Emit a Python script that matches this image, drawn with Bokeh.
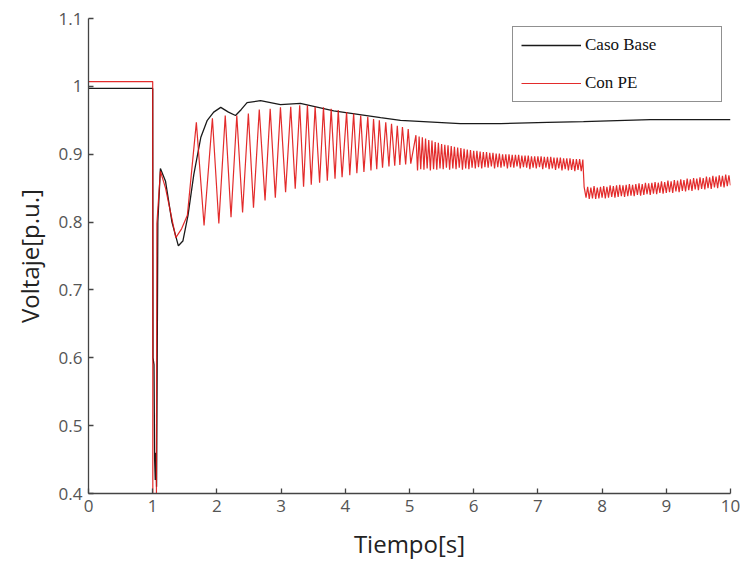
import numpy as np
from bokeh.plotting import figure
from bokeh.models import FixedTicker, Range1d, Legend, LegendItem
from bokeh.embed import file_html
from bokeh.resources import INLINE

# ---------------- data ----------------
# Caso Base
base_t = [0, 1.0, 1.005, 1.02, 1.03, 1.04, 1.05, 1.06, 1.07, 1.08, 1.12, 1.2, 1.3, 1.4, 1.47,
          1.55, 1.64, 1.75, 1.85, 1.95, 2.06, 2.18, 2.29, 2.38, 2.47, 2.68, 2.99, 3.3, 3.82,
          4.55, 4.86, 5.79, 6.42, 7.15, 7.71, 8.75, 10.0]
base_v = [0.997, 0.997, 0.60, 0.59, 0.45, 0.42, 0.46, 0.41, 0.59, 0.80, 0.879, 0.86, 0.80, 0.765, 0.772,
          0.81, 0.87, 0.925, 0.95, 0.962, 0.969, 0.962, 0.957, 0.966, 0.976, 0.979, 0.973, 0.975, 0.964,
          0.954, 0.950, 0.945, 0.945, 0.947, 0.948, 0.951, 0.951]

# Con PE - start
pe_start_t = [0, 1.0, 1.002, 1.058, 1.065, 1.12, 1.2, 1.36, 1.45, 1.54]
pe_start_v = [1.007, 1.007, 0.38, 0.38, 0.798, 0.875, 0.85, 0.777, 0.79, 0.81]

# Con PE - oscillation peaks and troughs
pe_peak_t = [1.68, 1.93, 2.13, 2.31, 2.49, 2.66, 2.83, 2.99, 3.15, 3.29, 3.41, 3.53, 3.66,
             3.78, 3.89, 4.02, 4.13, 4.24, 4.35, 4.44, 4.53, 4.63, 4.72, 4.81, 4.89, 4.98]
pe_peak_v = [0.947, 0.953, 0.957, 0.957, 0.960, 0.966, 0.967, 0.969, 0.970, 0.972, 0.972, 0.970, 0.969,
             0.967, 0.965, 0.962, 0.960, 0.957, 0.955, 0.952, 0.950, 0.947, 0.945, 0.942, 0.940, 0.937]
pe_trough_t = [1.80, 2.03, 2.22, 2.40, 2.57, 2.75, 2.91, 3.07, 3.22, 3.35, 3.47, 3.60, 3.72,
               3.84, 3.95, 4.07, 4.18, 4.29, 4.40, 4.49, 4.58, 4.68, 4.77, 4.85, 4.94, 5.02]
pe_trough_v = [0.795, 0.798, 0.807, 0.814, 0.821, 0.832, 0.836, 0.844, 0.849, 0.852, 0.855, 0.858, 0.861,
               0.864, 0.866, 0.869, 0.872, 0.874, 0.876, 0.878, 0.880, 0.882, 0.883, 0.884, 0.885, 0.886]

# Con PE - noisy band before the step (samples every 0.025 s from 5.10 to 7.70)
pe_band1_t0, pe_band1_dt = 5.10, 0.025
pe_band1_v = [0.928, 0.876, 0.926, 0.878, 0.925, 0.877, 0.923, 0.879, 0.921, 0.876,
              0.920, 0.878, 0.918, 0.877, 0.917, 0.879, 0.915, 0.878, 0.914, 0.880,
              0.913, 0.877, 0.912, 0.879, 0.911, 0.878, 0.910, 0.880, 0.909, 0.877,
              0.908, 0.879, 0.907, 0.878, 0.906, 0.880, 0.905, 0.879, 0.905, 0.881,
              0.904, 0.879, 0.903, 0.881, 0.903, 0.880, 0.902, 0.882, 0.902, 0.879,
              0.901, 0.881, 0.901, 0.880, 0.900, 0.882, 0.900, 0.879, 0.900, 0.881,
              0.899, 0.880, 0.899, 0.882, 0.899, 0.879, 0.898, 0.881, 0.898, 0.880,
              0.898, 0.878, 0.897, 0.880, 0.897, 0.879, 0.897, 0.881, 0.897, 0.878,
              0.896, 0.880, 0.896, 0.878, 0.896, 0.879, 0.895, 0.877, 0.895, 0.879,
              0.895, 0.876, 0.894, 0.878, 0.894, 0.876, 0.894, 0.877, 0.893, 0.875,
              0.893, 0.877, 0.893, 0.875, 0.892]
# step
pe_step_t = [7.72]
pe_step_v = [0.852]
# Con PE - noisy band after the step (samples every 0.025 s from 7.75 to 10.00)
pe_band2_t0, pe_band2_dt = 7.75, 0.025
pe_band2_v = [0.836, 0.852, 0.834, 0.851, 0.835, 0.853, 0.834, 0.851, 0.835, 0.852,
              0.836, 0.853, 0.835, 0.852, 0.836, 0.854, 0.837, 0.853, 0.836, 0.854,
              0.837, 0.855, 0.838, 0.854, 0.837, 0.855, 0.838, 0.856, 0.839, 0.855,
              0.838, 0.856, 0.840, 0.857, 0.839, 0.856, 0.840, 0.858, 0.841, 0.857,
              0.840, 0.858, 0.842, 0.859, 0.841, 0.858, 0.843, 0.860, 0.842, 0.859,
              0.843, 0.861, 0.844, 0.860, 0.843, 0.862, 0.845, 0.861, 0.844, 0.863,
              0.846, 0.862, 0.845, 0.864, 0.847, 0.863, 0.846, 0.865, 0.848, 0.864,
              0.847, 0.866, 0.849, 0.865, 0.848, 0.867, 0.850, 0.866, 0.849, 0.868,
              0.851, 0.867, 0.850, 0.869, 0.852, 0.868, 0.851, 0.870, 0.853, 0.869,
              0.854]

x_ticks = [0, 1, 2, 3, 4, 5, 6, 7, 8, 9, 10]
y_ticks = [0.4, 0.5, 0.6, 0.7, 0.8, 0.9, 1.0, 1.1]
y_tick_labels = ["0.4", "0.5", "0.6", "0.7", "0.8", "0.9", "1", "1.1"]
series_names = ["Caso Base", "Con PE"]
x_label = "Tiempo[s]"
y_label = "Voltaje[p.u.]"

# ---------------- assemble series ----------------
osc_t, osc_v = [], []
for a, b, c, d in zip(pe_peak_t, pe_peak_v, pe_trough_t, pe_trough_v):
    osc_t += [a, c]
    osc_v += [b, d]
band1_t = [pe_band1_t0 + i * pe_band1_dt for i in range(len(pe_band1_v))]
band2_t = [pe_band2_t0 + i * pe_band2_dt for i in range(len(pe_band2_v))]
pe_t = pe_start_t + osc_t + band1_t + pe_step_t + band2_t
pe_v = pe_start_v + osc_v + pe_band1_v + pe_step_v + pe_band2_v

# ---------------- figure ----------------
p = figure(width=740, height=563, output_backend="svg", toolbar_location=None,
           x_range=Range1d(0, 10), y_range=Range1d(0.4, 1.1),
           min_border_left=88, min_border_right=10, min_border_top=18, min_border_bottom=70)
p.background_fill_color = "white"
p.border_fill_color = "white"
p.outline_line_color = None
p.xgrid.visible = False
p.ygrid.visible = False

r_base = p.line(base_t, base_v, line_color="#1a1a1a", line_width=1.3)
r_pe = p.line(pe_t, pe_v, line_color="#e01414", line_width=1.2, line_alpha=0.9)

tick_font = "Open Sans"
for ax in (p.xaxis[0], p.yaxis[0]):
    ax.major_tick_in = 5
    ax.major_tick_out = 0
    ax.minor_tick_line_color = None
    ax.axis_line_color = "#444444"
    ax.major_tick_line_color = "#444444"
    ax.axis_line_width = 1.3
    ax.major_tick_line_width = 1.3
    ax.major_label_text_font = tick_font
    ax.major_label_text_font_size = "17px"
    ax.major_label_text_color = "#555555"
    ax.axis_label_text_font = tick_font
    ax.axis_label_text_font_size = "24px"
    ax.axis_label_text_font_style = "normal"
    ax.axis_label_text_color = "#222222"

p.xaxis[0].ticker = FixedTicker(ticks=x_ticks)
p.yaxis[0].ticker = FixedTicker(ticks=y_ticks)
p.yaxis[0].major_label_overrides = {t: l for t, l in zip(y_ticks, y_tick_labels)}
p.xaxis[0].axis_label = x_label
p.yaxis[0].axis_label = y_label
p.xaxis[0].major_label_standoff = 6
p.yaxis[0].major_label_standoff = 6
p.xaxis[0].axis_label_standoff = 12
p.yaxis[0].axis_label_standoff = 10

legend = Legend(items=[LegendItem(label=series_names[0], renderers=[r_base]),
                       LegendItem(label=series_names[1], renderers=[r_pe])],
                location="top_right")
legend.margin = 8
legend.padding = 8
legend.spacing = 18
legend.glyph_width = 60
legend.glyph_height = 20
legend.label_standoff = 4
legend.label_width = 128
legend.label_text_font = "Liberation Serif"
legend.label_text_font_size = "17px"
legend.label_text_color = "#111111"
legend.border_line_color = "#222222"
legend.border_line_width = 1.2
legend.background_fill_color = "white"
legend.background_fill_alpha = 1.0
p.add_layout(legend)

open("out.html", "w").write(file_html(p, INLINE))
